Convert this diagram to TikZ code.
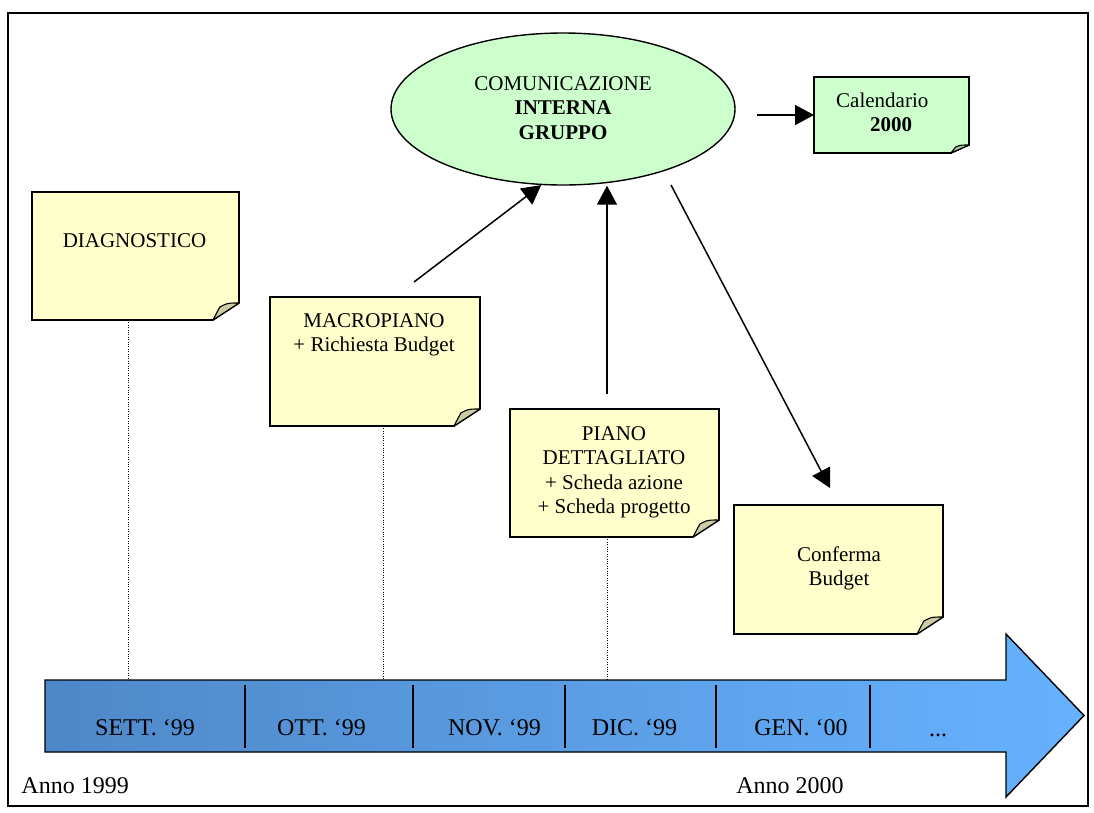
\documentclass[tikz,border=0pt]{standalone}
\usepackage{fontspec}
\setmainfont{Liberation Serif}
\usetikzlibrary{arrows.meta,calc,shapes.geometric}

\definecolor{paper}{HTML}{FFFFCC}
\definecolor{paperflap}{HTML}{CCCCA3}
\definecolor{mint}{HTML}{CCFFCC}
\definecolor{mintflap}{HTML}{A3CCA3}
\definecolor{barleft}{HTML}{4F88C8}
\definecolor{barright}{HTML}{66B2FF}

% sticky note with a folded bottom-right corner:
% #1 node, #2 paper colour, #3 flap colour, #4 cut width, #5 cut height
\newcommand\foldnote[5]{%
  \filldraw[line width=1.6pt, fill=#2, line join=miter]
    (#1.north west) -- (#1.north east) -- ($(#1.south east)+(0,-#5)$)
    -- ($(#1.south east)+(-#4,0)$) -- (#1.south west) -- cycle;
  \filldraw[line width=1.1pt, fill=#3, line join=round]
    ($(#1.south east)+(-#4,0)$) -- ($(#1.south east)+(-0.74*#4,-0.76*#5)$)
    .. controls ($(#1.south east)+(-0.45*#4,-1.0*#5)$) .. ($(#1.south east)+(0,-#5)$) -- cycle;
}

\begin{document}
\begin{tikzpicture}[x=1pt, y=-1pt,
  font=\fontsize{21}{24.5}\selectfont,
  notebox/.style={rectangle, inner sep=0pt, outer sep=0pt},
  % multi-line text nodes are placed by the baseline of their last line
  notetext/.style={anchor=base, align=center, inner sep=0pt},
  monthtext/.style={anchor=base, inner sep=0pt, font=\fontsize{24}{28}\selectfont},
  conn/.style={line width=1.5pt, -{Triangle[length=19pt, width=20pt]}},
  guide/.style={line width=1pt, dash pattern=on 1pt off 1.4pt},
  divider/.style={line width=1.6pt}]

\useasboundingbox (0,0) rectangle (1094,812);
\fill[white] (0,0) rectangle (1094,812);

% frame
\draw[line width=1.3pt] (8,13) rectangle (1088,806);

% timeline arrow
\filldraw[line width=1.4pt, left color=barleft, right color=barright, line join=miter]
  (45,680) -- (1006,680) -- (1006,634) -- (1084,715.5) -- (1006,797)
  -- (1006,752) -- (45,752) -- cycle;
\coordinate (bartop) at (45,680);
\foreach \x in {245,413,565,716,870}
  \draw[divider] (\x,685) -- (\x,748);

\node[monthtext] (sett) at (145,735) {SETT. ‘99};
\node[monthtext] (ott)  at (321.5,735) {OTT. ‘99};
\node[monthtext] (nov)  at (494.5,735) {NOV. ‘99};
\node[monthtext] (dic)  at (634.5,735) {DIC. ‘99};
\node[monthtext] (gen)  at (801,735) {GEN. ‘00};
\node[monthtext] (more) at (938,736) {...};

\node[monthtext, anchor=base east] (y1999) at (129,793) {Anno 1999};
\node[monthtext] (y2000) at (790,793) {Anno 2000};

% notes
\node[notebox, minimum width=207pt, minimum height=128pt] (diag)  at (135.5,256) {};
\node[notebox, minimum width=210pt, minimum height=129pt] (macro) at (375,361.5) {};
\node[notebox, minimum width=209pt, minimum height=128pt] (piano) at (614.5,473) {};
\node[notebox, minimum width=209pt, minimum height=129pt] (conf)  at (838.5,569.5) {};
\node[notebox, minimum width=155pt, minimum height=76pt]  (cal)   at (891.5,115) {};

\foldnote{diag}{paper}{paperflap}{26}{17}
\foldnote{macro}{paper}{paperflap}{26}{17}
\foldnote{piano}{paper}{paperflap}{26}{17}
\foldnote{conf}{paper}{paperflap}{26}{17}
\foldnote{cal}{mint}{mintflap}{18}{8}

\node[notetext] (diagt)  at (134.5,247) {DIAGNOSTICO};
\node[notetext] (macrot) at (374,351.5) {MACROPIANO\\+ Richiesta Budget};
\node[notetext] (pianot) at (614,513.5) {PIANO\\DETTAGLIATO\\+ Scheda azione\\+ Scheda progetto};
\node[notetext] (conft)  at (839,585.5) {Conferma\\Budget};
\node[notetext, anchor=base west, align=left] (calt) at (836,131.5)
  {Calendario\\\hspace*{34pt}\textbf{2000}};

% group communication
\node[ellipse, draw, fill=mint, line width=1.4pt, inner sep=0pt,
      minimum width=344pt, minimum height=152pt] (com) at (563,109) {};
\node[notetext] (comt) at (563,139) {COMUNICAZIONE\\\textbf{INTERNA}\\\textbf{GRUPPO}};

% dotted guides down to the timeline
\draw[guide] ([xshift=-7.5pt]diag.south)  -- ([xshift=-7.5pt]diag.south |- bartop);
\draw[guide] ([xshift=8pt]macro.south)    -- ([xshift=8pt]macro.south |- bartop);
\draw[guide] ([xshift=-7.5pt]piano.south) -- ([xshift=-7.5pt]piano.south |- bartop);

% flows
\coordinate (m1) at (414,282);
\coordinate (v1) at (607,394);
\coordinate (d1) at (671,185);
\coordinate (d2) at (830,488);
\coordinate (k1) at (757,115);
\draw[conn] (m1) -- (com.254.5);
\draw[conn] (v1) -- (v1 |- com.south);
\draw[conn] (d1) -- (d2);
\draw[conn] (k1) -- (cal.west);

\end{tikzpicture}
\end{document}
